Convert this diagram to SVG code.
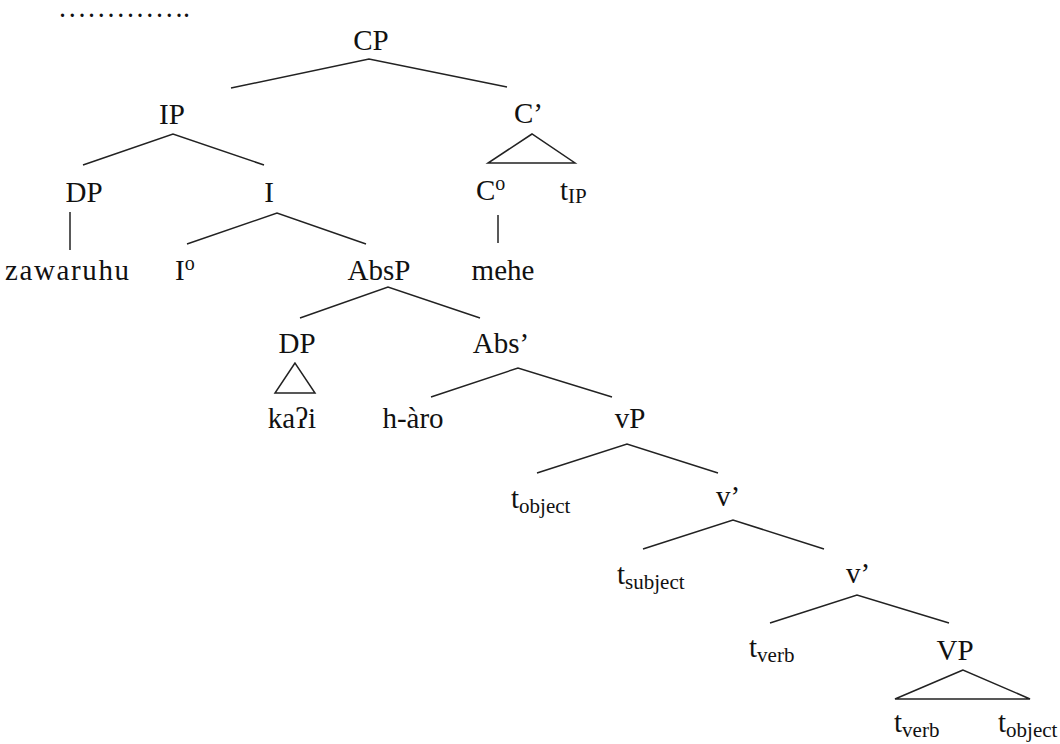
<svg xmlns="http://www.w3.org/2000/svg" width="1060" height="744" viewBox="0 0 1060 744">
<style>
text{font-family:"Liberation Serif","Times New Roman","DejaVu Serif",serif;font-size:29px;fill:#111}
.m{text-anchor:middle}
.sub{font-size:21px}
.sup{font-size:20px}
.e{fill:none;stroke:#222;stroke-width:1.5;stroke-linejoin:miter}
</style>
<rect width="1060" height="744" fill="#fff"/>
<text id="dots" x="60" y="17" style="font-size:20px;font-weight:bold;letter-spacing:4.7px">............<tspan style="letter-spacing:2.5px">..</tspan></text>
<g id="connectors">
<polyline class="e" points="231,88 369,59 507,87"/>
<polyline class="e" points="83,165 173,134 264,165"/>
<polygon class="e" points="532,134 488,163 575,163"/>
<line class="e" x1="70" y1="212" x2="70" y2="250"/>
<line class="e" x1="498" y1="215" x2="498" y2="243"/>
<polyline class="e" points="187,244 277,213 366,244"/>
<polyline class="e" points="300,318 388,287 480,318"/>
<polygon class="e" points="295,363 275,393 315,393"/>
<polyline class="e" points="431,397 518,368 612,397"/>
<polyline class="e" points="537,473 627,444 718,473"/>
<polyline class="e" points="643,549 733,520 824,549"/>
<polyline class="e" points="770,623 857,595 949,623"/>
<polygon class="e" points="963,670 895,699 1030,699"/>
</g>
<g id="n-CP"><text class="m" x="371" y="50">CP</text></g>
<g id="n-IP"><text class="m" x="172" y="124">IP</text></g>
<g id="n-Cbar"><text x="514" y="123">C’</text></g>
<g id="n-DP1"><text class="m" x="84" y="202">DP</text></g>
<g id="n-I"><text class="m" x="269" y="202">I</text></g>
<g id="n-C0"><text x="476" y="200">C<tspan class="sup" dy="-10">o</tspan></text></g>
<g id="n-tIP"><text x="560" y="200">t<tspan class="sub" dy="3">IP</tspan></text></g>
<g id="n-zawaruhu"><text class="m" x="67" y="280" textLength="124">zawaruhu</text></g>
<g id="n-I0"><text x="175" y="280">I<tspan class="sup" dy="-10">o</tspan></text></g>
<g id="n-AbsP"><text class="m" x="379" y="280">AbsP</text></g>
<g id="n-mehe"><text class="m" x="503" y="280">mehe</text></g>
<g id="n-DP2"><text class="m" x="297" y="353">DP</text></g>
<g id="n-Absbar"><text class="m" x="501" y="353">Abs’</text></g>
<g id="n-kaqi"><text class="m" x="292" y="428">kaʔi</text></g>
<g id="n-haro"><text class="m" x="413" y="428">h-àro</text></g>
<g id="n-vP"><text class="m" x="630" y="428">vP</text></g>
<g id="n-tobject1"><text x="511" y="508">t<tspan class="sub" dy="5">object</tspan></text></g>
<g id="n-vbar1"><text x="716" y="506">v’</text></g>
<g id="n-tsubject"><text x="617" y="584">t<tspan class="sub" dy="5">subject</tspan></text></g>
<g id="n-vbar2"><text x="846" y="583">v’</text></g>
<g id="n-tverb1"><text x="749" y="657">t<tspan class="sub" dy="5">verb</tspan></text></g>
<g id="n-VP"><text class="m" x="955" y="660">VP</text></g>
<g id="n-tverb2"><text x="894" y="732">t<tspan class="sub" dy="5">verb</tspan></text></g>
<g id="n-tobject2"><text x="998" y="732">t<tspan class="sub" dy="5">object</tspan></text></g>
</svg>
